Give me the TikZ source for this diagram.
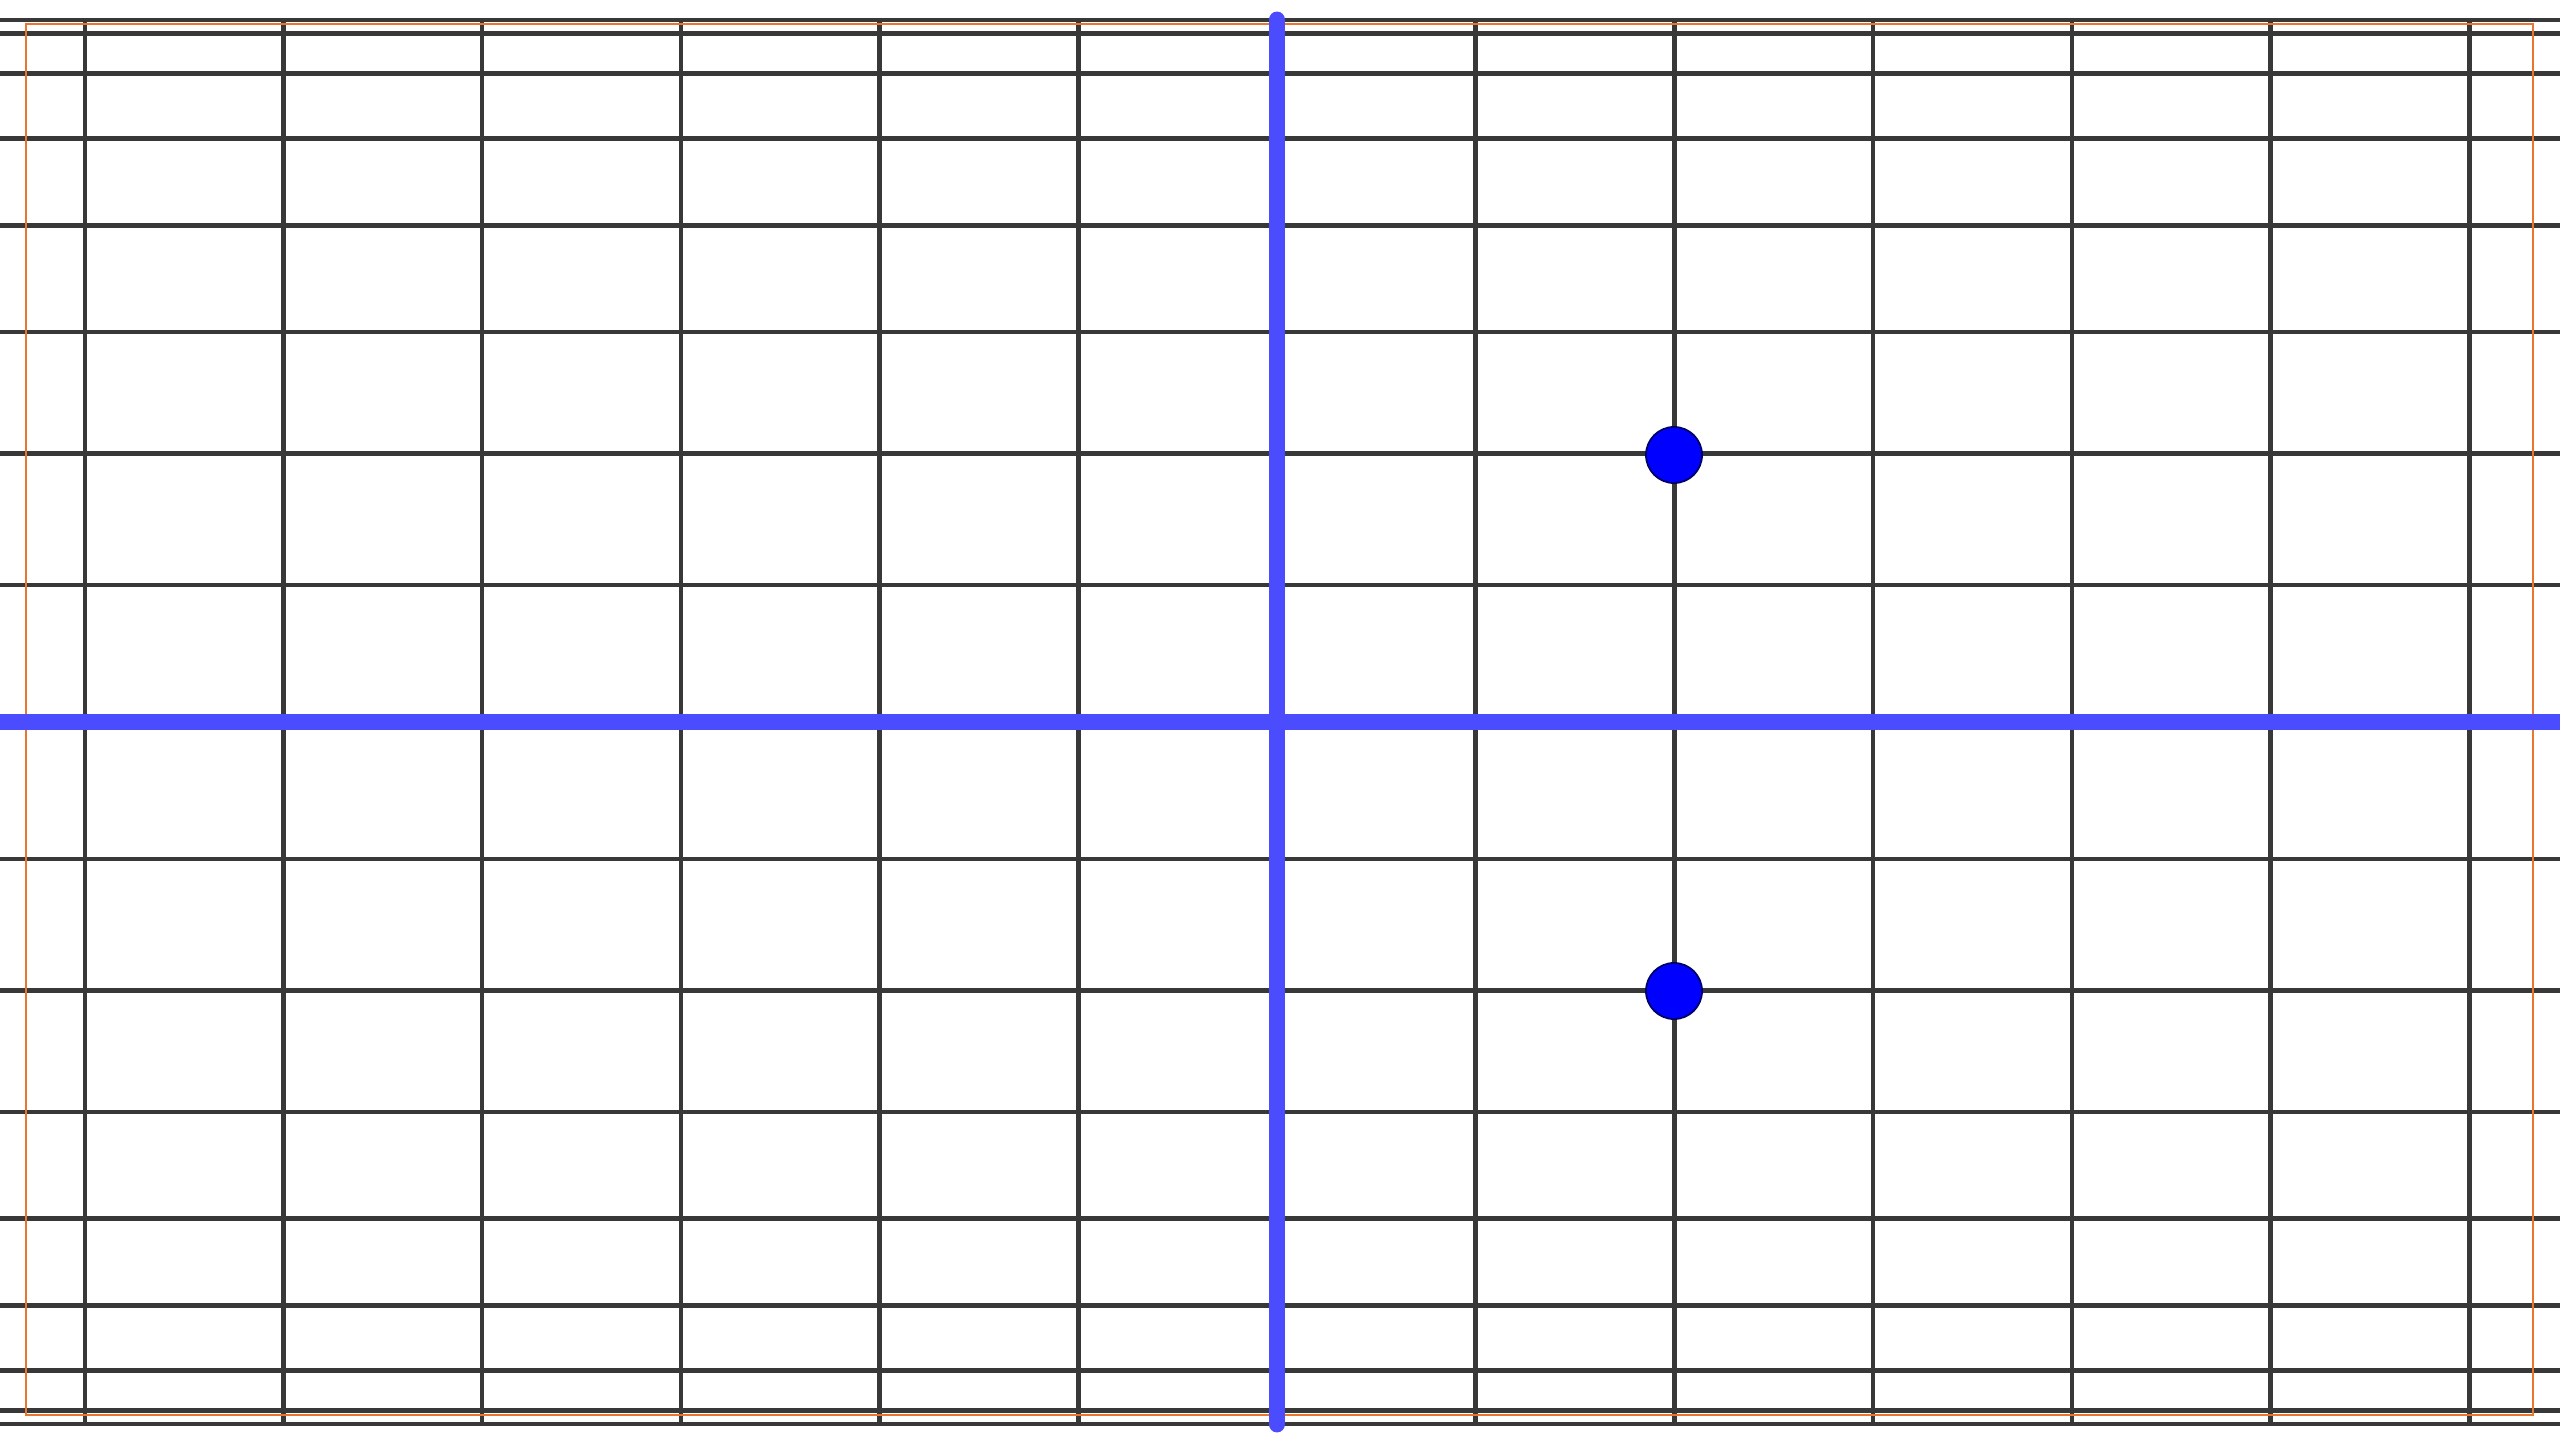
\documentclass[tikz,border=0pt]{standalone}
\definecolor{frameorange}{RGB}{232,117,48}
\begin{document}
\begin{tikzpicture}[x=0.01cm,y=-0.01cm,
  gridline/.style={line width=1.3pt, draw=black!78},
  axisline/.style={line width=4.8pt, draw=blue!70},
  framebox/.style={line width=0.6pt, draw=frameorange},
  dot/.style={circle, fill=blue, draw=blue!40!black, line width=0.5pt, minimum size=0.56cm, inner sep=0pt}]
\useasboundingbox (0,0) rectangle (2560,1440);
\foreach \n in {-8,...,8} {
  \draw[gridline] (0,{722+702*sin(\n*11.25)}) -- (2560,{722+702*sin(\n*11.25)});
}
\foreach \i in {-6,...,6} {
  \draw[gridline] ({1277+198.7*\i},20) -- ({1277+198.7*\i},1424);
}
\draw[framebox] (26,24) rectangle (2533,1415);
\draw[axisline] (0,722) -- (2560,722);
\draw[axisline, line cap=round] (1277,20) -- (1277,1424);
\node[dot] (p1) at (1674,455) {};
\node[dot] (p2) at (1674,991) {};
\end{tikzpicture}
\end{document}
